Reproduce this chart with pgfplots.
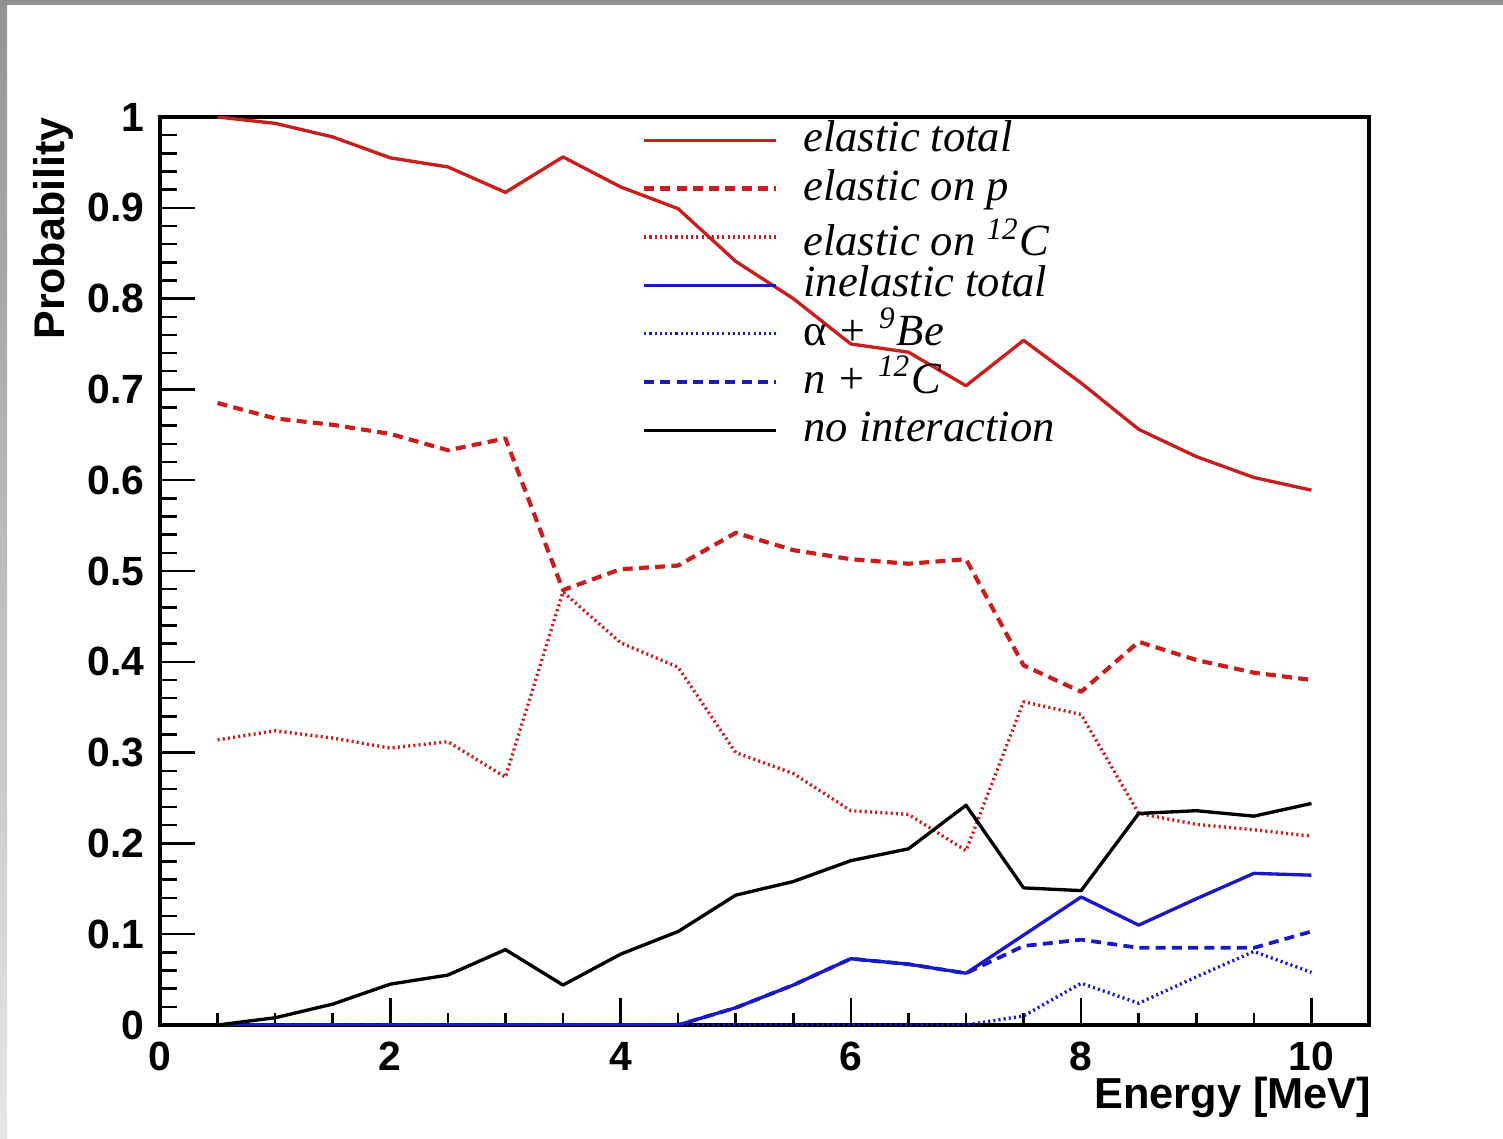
\documentclass[border=0pt]{standalone}
\usepackage{pgfplots}
\usepackage{pgfplotstable}
\pgfplotsset{compat=1.18}
\usepackage{fontspec}
\setmainfont{Liberation Serif}
\newfontfamily\arial{Liberation Sans}
\definecolor{rred}{RGB}{200,30,30}
\definecolor{rblue}{RGB}{25,25,200}
\pgfplotstableread{
x    ET    EP    EC    IT    AB    NC    NI
0.5  1.000 0.685 0.314 0.000 0.000 0.000 0.000
1.0  0.993 0.668 0.324 0.000 0.000 0.000 0.008
1.5  0.978 0.661 0.316 0.000 0.000 0.000 0.023
2.0  0.955 0.651 0.305 0.000 0.000 0.000 0.045
2.5  0.945 0.633 0.312 0.000 0.000 0.000 0.055
3.0  0.917 0.646 0.273 0.000 0.000 0.000 0.083
3.5  0.956 0.479 0.477 0.000 0.000 0.000 0.044
4.0  0.923 0.502 0.421 0.000 0.000 0.000 0.078
4.5  0.899 0.506 0.394 0.000 0.000 0.000 0.103
5.0  0.841 0.542 0.300 0.019 0.000 0.019 0.143
5.5  0.800 0.523 0.277 0.044 0.000 0.044 0.158
6.0  0.750 0.513 0.236 0.073 0.000 0.073 0.181
6.5  0.741 0.508 0.232 0.067 0.000 0.067 0.194
7.0  0.704 0.513 0.192 0.057 0.000 0.057 0.242
7.5  0.754 0.396 0.356 0.099 0.010 0.087 0.151
8.0  0.707 0.367 0.342 0.141 0.046 0.094 0.148
8.5  0.656 0.422 0.233 0.110 0.024 0.085 0.233
9.0  0.626 0.402 0.221 0.139 0.053 0.085 0.236
9.5  0.603 0.388 0.215 0.167 0.081 0.085 0.230
10.0 0.589 0.380 0.208 0.165 0.058 0.103 0.244
}\datatable
\begin{document}
\begin{tikzpicture}
% background (screenshot frame)
\fill[white] (-38.4pt,-27.12pt) rectangle (322.32pt,246pt);
\shade[top color=black!42, bottom color=black!10] (-38.4pt,-27.12pt) rectangle (-36.7pt,246pt);
\fill[black!43] (-38.4pt,244.9pt) rectangle (322.32pt,246pt);
\begin{axis}[
  at={(0,0)}, anchor=south west,
  scale only axis, width=290.16pt, height=217.92pt,
  xmin=0, xmax=10.5, ymin=0, ymax=1,
  axis line style={line width=0.9pt},
  tick pos=left, tick align=inside,
  major tick length=8.4pt, minor tick length=4pt,
  tick style={black, line width=0.6pt},
  xtick style={/pgfplots/major tick length=6.5pt, /pgfplots/minor tick length=2.9pt},
  xtick={0,2,4,6,8,10}, xticklabels={0,2,4,6,8,10},
  minor x tick num=3,
  ytick={0,0.1,0.2,0.3,0.4,0.5,0.6,0.7,0.8,0.9,1},
  yticklabels={0,0.1,0.2,0.3,0.4,0.5,0.6,0.7,0.8,0.9,1},
  minor y tick num=4,
  tick label style={font=\arial\bfseries\fontsize{9.8}{11}\selectfont},
  xticklabel style={yshift=-0.6pt},
  yticklabel style={xshift=-0.2pt},
  legend style={draw=none, fill=none, at={(axis cs:4.18,1.002)}, anchor=north west,
    inner sep=0pt, row sep=0pt, column sep=6.0pt,
    font=\itshape\fontsize{10.7}{13}\selectfont,
    nodes={inner sep=0pt, text height=8.6pt, text depth=3pt}},
  legend cell align=left,
  legend image code/.code={\draw[#1] (0pt,0pt) -- (31.7pt,0pt);},
  every axis plot/.append style={line join=round},
]
\addplot[rred, line width=0.8pt] table[x=x,y=ET] {\datatable};
\addlegendentry{elastic total}
\addplot[rred, line width=1pt, dash pattern=on 2.4pt off 1.5pt] table[x=x,y=EP] {\datatable};
\addlegendentry{elastic on \textit{p}}
\addplot[rred, line width=0.8pt, dash pattern=on 0.5pt off 0.75pt] table[x=x,y=EC] {\datatable};
\addlegendentry{\raisebox{-0.35ex}{elastic on \textsuperscript{12}C}}
\addplot[rblue, line width=0.8pt] table[x=x,y=IT] {\datatable};
\addlegendentry{inelastic total}
\addplot[rblue, line width=0.8pt, dash pattern=on 0.5pt off 0.75pt] table[x=x,y=AB] {\datatable};
\addlegendentry{\upshape α\itshape{} + \textsuperscript{9}Be}
\addplot[rblue, line width=0.9pt, dash pattern=on 2.4pt off 1.5pt] table[x=x,y=NC] {\datatable};
\addlegendentry{n + \textsuperscript{12}C}
\addplot[black, line width=0.8pt] table[x=x,y=NI] {\datatable};
\addlegendentry{no interaction}
\end{axis}
\node[rotate=90, anchor=south east, inner sep=0pt, font=\arial\bfseries\fontsize{10.3}{12}\selectfont] at (-20.6pt,217.92pt) {Probability};
\node[anchor=north east, inner sep=0pt, font=\arial\bfseries\fontsize{10.4}{12}\selectfont] at (290.9pt,-12.4pt) {Energy [MeV]};
\pgfresetboundingbox
\path[use as bounding box] (-38.4pt,-27.12pt) rectangle (322.32pt,246pt);
\end{tikzpicture}
\end{document}
